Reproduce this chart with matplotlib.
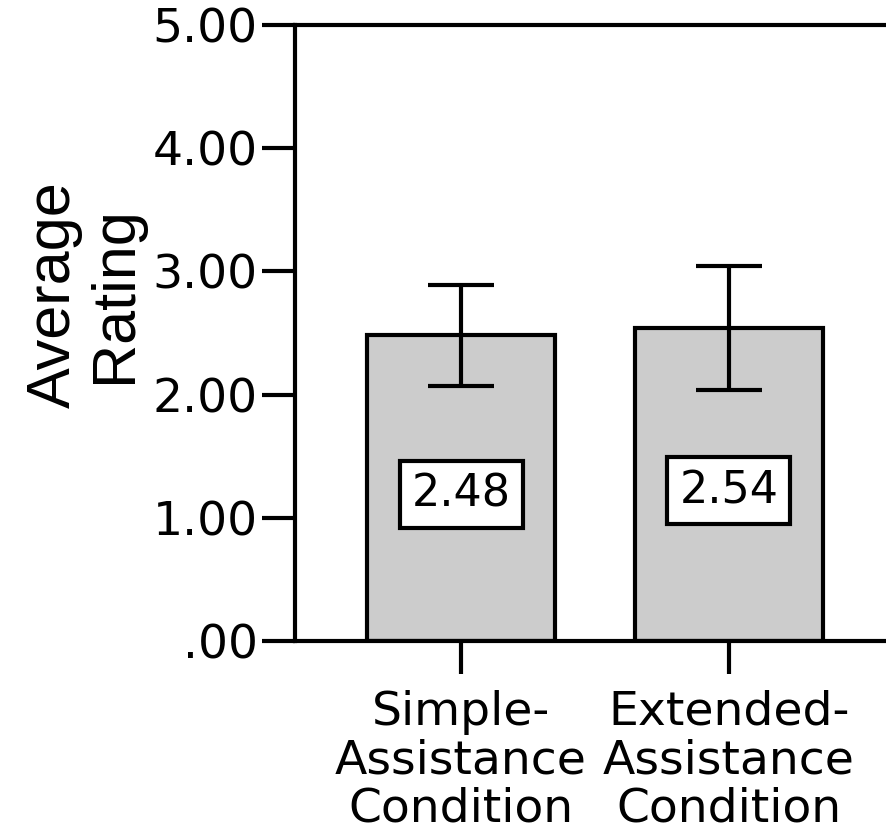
import matplotlib
matplotlib.use('Agg')
import matplotlib.pyplot as plt

conditions = ['Simple-\nAssistance\nCondition', 'Extended-\nAssistance\nCondition']
means = [2.48, 2.54]
err_low = [2.07, 2.04]
err_high = [2.89, 3.04]
y_ticks = [0, 1, 2, 3, 4, 5]
y_tick_labels = ['.00', '1.00', '2.00', '3.00', '4.00', '5.00']

plt.rcParams['font.family'] = ['DejaVu Sans']

fig = plt.figure(figsize=(8.86, 8.33), dpi=100)
ax = fig.add_axes([0.333, 0.2305, 0.677, 0.7395])

xs = list(range(len(means)))
yerr = [[m - lo for m, lo in zip(means, err_low)],
        [hi - m for m, hi in zip(means, err_high)]]

ax.bar(xs, means, width=0.7, color='#cccccc', edgecolor='black', linewidth=3, zorder=2)
ax.errorbar(xs, means, yerr=yerr, fmt='none', ecolor='black', elinewidth=3,
            capsize=24, capthick=3, zorder=3)

# value labels in white boxes
for x, m in zip(xs, means):
    ax.text(x, m * 0.48, f'{m:.2f}', ha='center', va='center', fontsize=32, zorder=4,
            bbox=dict(boxstyle='square,pad=0.27', facecolor='white', edgecolor='black', linewidth=3))

ax.set_xlim(-0.62, 1.62)
ax.set_ylim(0, 5)
ax.set_yticks(y_ticks)
ax.set_yticklabels(y_tick_labels)
ax.set_xticks(xs)
ax.set_xticklabels(conditions, linespacing=1.1)

for s in ax.spines.values():
    s.set_linewidth(3)

ax.tick_params(axis='both', direction='out', length=24, width=3, labelsize=34)
ax.tick_params(axis='y', pad=3)
ax.tick_params(axis='x', pad=11)

fig.text(85 / 886, 1 - 295 / 833, 'Average\nRating', rotation=90, ha='center', va='center',
         fontsize=44, family='Liberation Sans', linespacing=1.1, multialignment='center')

fig.savefig('out.png', dpi=100)
